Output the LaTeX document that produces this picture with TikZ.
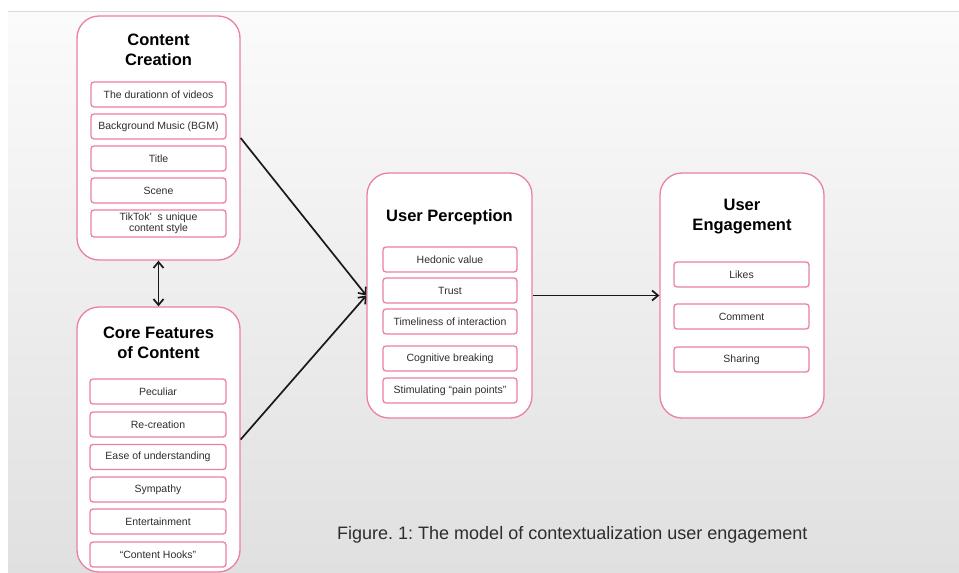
\documentclass[tikz,border=0pt]{standalone}
\usepackage{fontspec}
\setmainfont{Liberation Sans}
\usetikzlibrary{arrows.meta}
\definecolor{pinkb}{RGB}{236,128,160}
\definecolor{txt}{RGB}{45,45,45}
\definecolor{bgtop}{RGB}{251,251,251}
\definecolor{bgbot}{RGB}{224,224,224}
\begin{document}
\frenchspacing
\begin{tikzpicture}[x=1pt,y=-1pt,
  outer/.style={draw=pinkb, line width=1.3pt, fill=white, rounded corners=22pt, inner sep=0pt},
  item/.style={draw=pinkb, line width=1.3pt, fill=white, rounded corners=3pt, minimum height=25pt, inner sep=0pt, align=center, font=\fontsize{10.5}{11}\selectfont, text=txt},
  ttl/.style={font=\fontsize{16.5}{20}\selectfont\bfseries, align=center, text=black},
  arr/.style={line width=1.7pt, black!90, -{Straight Barb[length=6pt,width=10pt]}},
  darr/.style={line width=1.7pt, black!90, {Straight Barb[length=6pt,width=10pt]}-{Straight Barb[length=6pt,width=10pt]}}
]
\useasboundingbox (0,0) rectangle (959,573);
\fill[white] (0,0) rectangle (959,573);
\shade[top color=bgtop, bottom color=bgbot] (8,11) rectangle (959,573);
\draw[black!15, line width=1.2pt] (8,11.5) -- (959,11.5);

% Content Creation
\node[outer, minimum width=163pt, minimum height=244pt] (cc) at (158.5,138) {};
\node[ttl] (cct) at (158.5,50) {Content\\Creation};
\node[item, minimum width=135pt] (cc1) at (158.5,94.5) {The durationn of videos};
\node[item, minimum width=135pt] (cc2) at (158.5,126.5) {Background Music (BGM)};
\node[item, minimum width=135pt] (cc3) at (158.5,158.5) {Title};
\node[item, minimum width=135pt] (cc4) at (158.5,190.5) {Scene};
\node[item, minimum width=135pt, minimum height=27pt] (cc5) at (158.5,223.5) {TikTok’\ \ s unique\\content style};

% Core Features of Content
\node[outer, minimum width=163pt, minimum height=265pt] (cf) at (158.5,439.5) {};
\node[ttl] (cft) at (158.5,343) {Core Features\\of Content};
\node[item, minimum width=136pt] (cf1) at (158,391.5) {Peculiar};
\node[item, minimum width=136pt] (cf2) at (158,424.5) {Re-creation};
\node[item, minimum width=136pt] (cf3) at (158,457) {Ease of understanding};
\node[item, minimum width=136pt] (cf4) at (158,489.5) {Sympathy};
\node[item, minimum width=136pt] (cf5) at (158,521.5) {Entertainment};
\node[item, minimum width=136pt] (cf6) at (158,554.5) {“Content Hooks”};

% User Perception
\node[outer, minimum width=165pt, minimum height=245pt] (up) at (449.5,295.5) {};
\node[ttl] (upt) at (449.5,217) {User Perception};
\node[item, minimum width=134pt] (up1) at (450,259.5) {Hedonic value};
\node[item, minimum width=134pt] (up2) at (450,290.5) {Trust};
\node[item, minimum width=134pt] (up3) at (450,321.5) {Timeliness of interaction};
\node[item, minimum width=134pt] (up4) at (450,358.5) {Cognitive breaking};
\node[item, minimum width=134pt] (up5) at (450,390.5) {Stimulating “pain points”};

% User Engagement
\node[outer, minimum width=164pt, minimum height=245pt] (ue) at (742,295.5) {};
\node[ttl] (uet) at (742,217) {User\\Engagement};
\node[item, minimum width=135pt] (ue1) at (741.5,274.5) {Likes};
\node[item, minimum width=135pt] (ue2) at (741.5,316.5) {Comment};
\node[item, minimum width=135pt] (ue3) at (741.5,359.5) {Sharing};

% connectors
\draw[arr] (cc.east) -- (up.west);
\draw[arr] (cf.east) -- (up.west);
\draw[arr] (up.east) -- (ue.west);
\draw[darr] (cc.south) -- (cf.north);

% caption
\node[anchor=west, font=\fontsize{18}{21}\selectfont, text=txt, inner sep=0pt] (cap) at (337,535) {Figure. 1: The model of contextualization user engagement};
\end{tikzpicture}
\end{document}
